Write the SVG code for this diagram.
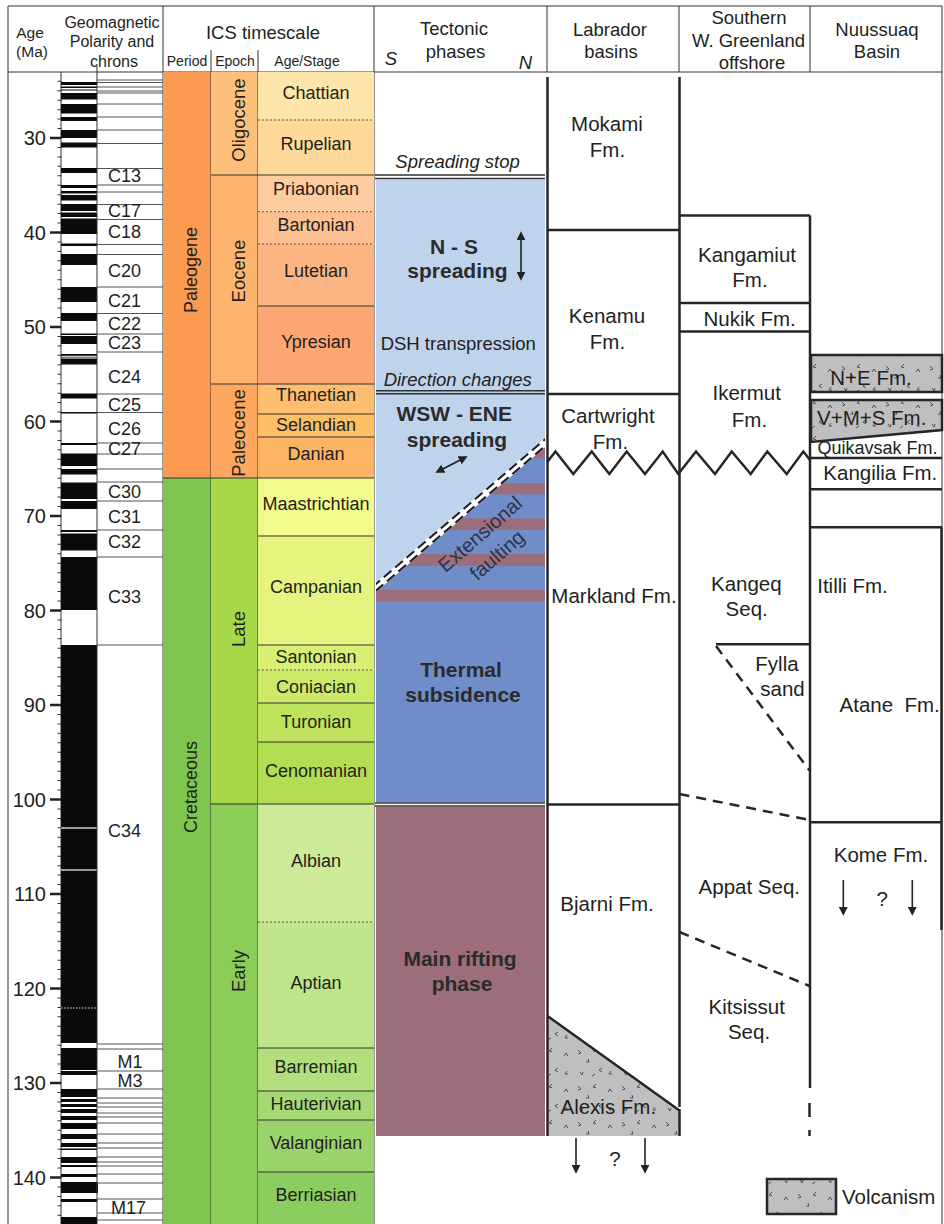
<svg xmlns="http://www.w3.org/2000/svg" width="944" height="1224" viewBox="0 0 944 1224">
<style>
.t{font-family:"Liberation Sans",Arial,sans-serif;fill:#231f20}
.m{text-anchor:middle}
.h{font-size:18.5px}
.hs{font-size:16px}
.sub{font-size:14px}
.st{font-size:18px;text-anchor:middle}
.ch{font-size:18px;text-anchor:middle}
.ag{font-size:20px;text-anchor:end}
.fm{font-size:20.5px;text-anchor:middle}
.b{font-size:21px;font-weight:bold;text-anchor:middle;fill:#2b2b2b}
.it{font-style:italic}
.thin{stroke:#333;stroke-width:1;fill:none}
.thk{stroke:#262626;stroke-width:2.5;fill:none}
.vb{stroke:#262626;stroke-width:2.5;fill:url(#volc)}
.dsh{stroke:#262626;stroke-width:2.5;fill:none;stroke-dasharray:10 7}
.dot{stroke:#555;stroke-width:1;stroke-dasharray:2 2;fill:none}
.dbl{stroke:#333;stroke-width:1.5;fill:none}
.arr{stroke:#222;stroke-width:1.6;fill:none}
</style>
<defs>
<pattern id="volc" patternUnits="userSpaceOnUse" width="44" height="36">
<rect width="44" height="36" fill="#bfbfc1"/>
<path d="M6 6l3 3l-3 1M24 4l-3 3l3 .5M36 12l2-3l2 3M14 18h3l-1-3M30 24l-3 2l3 2M8 28l2 3l1-3M40 30h-3l2-3M20 32l3-2" stroke="#333" stroke-width="0.8" fill="none"/>
</pattern>
<marker id="ah" viewBox="0 0 10 10" refX="8" refY="5" markerWidth="9" markerHeight="9" markerUnits="userSpaceOnUse" orient="auto-start-reverse">
<path d="M0 0L10 5L0 10z" fill="#222"/>
</marker>
<clipPath id="darkclip"><polygon points="376,589 545,443 545,802 376,802"/></clipPath>
<clipPath id="tcol"><rect x="376" y="180" width="169" height="622"/></clipPath>
</defs>
<rect width="944" height="1224" fill="#fff"/>

<g id="frame">
<path class="thin" d="M8 6H942V1224M8 6V1224M8 72H942M163 6V1224M374 6V1224M547 6V72M679 6V72M810 6V72M211 50V72M258 50V72M97 66V72"/>
</g>

<g id="header">
<text class="t m" style="font-size:15.5px" x="30" y="38">Age</text>
<text class="t m" style="font-size:15.5px" x="32" y="57">(Ma)</text>
<text class="t m hs" x="112" y="27.5">Geomagnetic</text>
<text class="t m hs" x="112" y="46.5">Polarity and</text>
<text class="t m hs" x="114" y="66.5">chrons</text>
<text class="t m h" x="263" y="39">ICS timescale</text>
<text class="t m sub" x="187" y="65.7">Period</text>
<text class="t m sub" x="235" y="65.7">Epoch</text>
<text class="t m sub" x="307" y="65.7">Age/Stage</text>
<text class="t m h" x="454" y="34.8">Tectonic</text>
<text class="t m h" x="455.5" y="58">phases</text>
<text class="t m h it" x="391" y="65">S</text>
<text class="t m h it" x="525.5" y="68.5">N</text>
<text class="t m h" x="610" y="35.8">Labrador</text>
<text class="t m h" x="611" y="58">basins</text>
<text class="t m h" x="749" y="23.8">Southern</text>
<text class="t m h" x="748.5" y="46.5">W. Greenland</text>
<text class="t m h" x="752" y="69">offshore</text>
<text class="t m h" x="877" y="35.8">Nuussuaq</text>
<text class="t m h" x="877" y="58">Basin</text>
</g>

<g id="age-axis">
<path d="M59.5 80.8V1224" stroke="#333" stroke-width="4" stroke-dasharray="1 8.45" fill="none"/>
<path d="M61 72V1224" class="thin"/>
<path d="M50 138H61M50 232.5H61M50 327H61M50 421.5H61M50 516H61M50 610.5H61M50 705H61M50 799.5H61M50 894H61M50 988.5H61M50 1083H61M50 1177.5H61" stroke="#222" stroke-width="2.5"/>
<text class="t ag" x="46" y="145.2">30</text>
<text class="t ag" x="46" y="239.7">40</text>
<text class="t ag" x="46" y="334.2">50</text>
<text class="t ag" x="46" y="428.7">60</text>
<text class="t ag" x="46" y="523.2">70</text>
<text class="t ag" x="46" y="617.7">80</text>
<text class="t ag" x="46" y="712.2">90</text>
<text class="t ag" x="46" y="806.7">100</text>
<text class="t ag" x="46" y="901.2">110</text>
<text class="t ag" x="46" y="995.7">120</text>
<text class="t ag" x="46" y="1090.2">130</text>
<text class="t ag" x="46" y="1184.7">140</text>
</g>

<g id="polarity">
<path fill="#0a0a0a" d="M61 82h36v3h-36zM61 86.5h36v1.5h-36zM61 89.5h36v1h-36zM61 93h36v6.5h-36zM61 104h36v9.5h-36zM61 117h36v4h-36zM61 130h36v8h-36zM61 142.5h36v5h-36zM61 168h36v5h-36zM61 185h36v3h-36zM61 191h36v2.5h-36zM61 195h36v5.5h-36zM61 204h36v7h-36zM61 212.5h36v4.5h-36zM61 218.5h36v15.5h-36zM61 243.5h36v2.5h-36zM61 254h36v11h-36zM61 287h36v15h-36zM61 313h36v8h-36zM61 333.5h36v1.5h-36zM61 336h36v8h-36zM61 354h36v1.7h-36zM61 356.7h36v.8h-36zM61 358.5h36v6h-36zM61 393.5h36v5h-36zM61 412h36v1.5h-36zM61 443h36v2h-36zM61 453.5h36v12.5h-36zM61 469h36v5.5h-36zM61 482.5h36v16.5h-36zM61 501h36v8h-36zM61 530h36v2h-36zM61 533.5h36v17h-36zM61 557h36v53h-36zM61 645h36v398h-36zM61 1048h36v22h-36zM61 1071h36v4h-36zM61 1089h36v8h-36zM61 1099h36v3h-36zM61 1104h36v3h-36zM61 1109h36v4h-36zM61 1116h36v4h-36zM61 1123h36v6h-36zM61 1134h36v5h-36zM61 1143h36v4h-36zM61 1148.5h36v1.5h-36zM61 1157h36v6h-36zM61 1165h36v2h-36zM61 1174h36v3h-36zM61 1182h37v11h-37zM61 1199h36v3h-36zM61 1217h36v7h-36z"/>
<path d="M61 828H97M61 870H97" stroke="#9a9a9a" stroke-width="2"/>
<path d="M61 1008H97" stroke="#ddd" stroke-width="1" stroke-dasharray="1.5 1.5"/>
<path d="M97 72V1224" class="thin"/>
</g>

<g id="chrons">
<path stroke="#555" stroke-width="1" fill="none" d="M97 80H163M97 82.5H163M97 87H163M97 91H163M97 93H163M97 104H163M97 117H163M97 130H163M97 143.5H163M97 168.5H163M97 185H163M97 192H163M97 204.5H163M97 219.5H163M97 244.5H163M97 254.5H163M97 287H163M97 313.5H163M97 334H163M97 352H163M97 394H163M97 412.5H163M97 443H163M97 454H163M97 469H163M97 482H163M97 501H163M97 530H163M97 557H163M97 645H163M97 1044H163M97 1049H163M97 1071H163M97 1089H163M97 1098H163M97 1103H163M97 1107H163M97 1113H163M97 1117H163M97 1123H163M97 1134H163M97 1143H163M97 1148H163M97 1157H163M97 1162H163M97 1166H163M97 1174H163M97 1183H163M97 1199H163M97 1213H163M97 1220H163"/>
<text class="t ch" x="124.5" y="181.6">C13</text>
<text class="t ch" x="124.5" y="217.3">C17</text>
<text class="t ch" x="124.5" y="238.3">C18</text>
<text class="t ch" x="124.5" y="277.3">C20</text>
<text class="t ch" x="124.5" y="306.6">C21</text>
<text class="t ch" x="124.5" y="329.9">C22</text>
<text class="t ch" x="124.5" y="348.9">C23</text>
<text class="t ch" x="124.5" y="382.6">C24</text>
<text class="t ch" x="124.5" y="410.6">C25</text>
<text class="t ch" x="124.5" y="434.9">C26</text>
<text class="t ch" x="124.5" y="454.9">C27</text>
<text class="t ch" x="124.5" y="498.3">C30</text>
<text class="t ch" x="124.5" y="523.3">C31</text>
<text class="t ch" x="124.5" y="548.3">C32</text>
<text class="t ch" x="124.5" y="603.3">C33</text>
<text class="t ch" x="124.5" y="837.3">C34</text>
<text class="t ch" x="130" y="1068.3">M1</text>
<text class="t ch" x="130" y="1087.3">M3</text>
<text class="t ch" x="128.5" y="1213.9">M17</text>
</g>

<g id="ics-period">
<rect x="163" y="72" width="48" height="406" fill="#FD9A52"/>
<rect x="163" y="478" width="48" height="746" fill="#7FC64E"/>
<path class="thin" d="M163 478H211M211 72V1224"/>
<text class="t m" style="font-size:18px" transform="translate(190 270) rotate(-90)" dy="6.5">Paleogene</text>
<text class="t m" style="font-size:18px" transform="translate(190 787) rotate(-90)" dy="6.5">Cretaceous</text>
</g>

<g id="ics-epoch">
<rect x="211" y="72" width="47" height="103" fill="#FDC07A"/>
<rect x="211" y="175" width="47" height="209" fill="#FDB46C"/>
<rect x="211" y="384" width="47" height="94" fill="#FDA75F"/>
<rect x="211" y="478" width="47" height="326" fill="#A6D84A"/>
<rect x="211" y="804" width="47" height="420" fill="#8CCD57"/>
<path class="thin" d="M211 175H258M211 384H258M211 478H258M211 804H258M258 72V1224"/>
<text class="t m" style="font-size:18.5px" transform="translate(238 120) rotate(-90)" dy="6.6">Oligocene</text>
<text class="t m" style="font-size:18.5px" transform="translate(238 271) rotate(-90)" dy="6.6">Eocene</text>
<text class="t m" style="font-size:18.5px" transform="translate(238 433) rotate(-90)" dy="6.6">Paleocene</text>
<text class="t m" style="font-size:18.5px" transform="translate(238 629) rotate(-90)" dy="6.6">Late</text>
<text class="t m" style="font-size:18.5px" transform="translate(238 971) rotate(-90)" dy="6.6">Early</text>
</g>

<g id="ics-stage">
<rect x="258" y="72" width="116" height="48" fill="#FEE6AA"/>
<rect x="258" y="120" width="116" height="55" fill="#FED99A"/>
<rect x="258" y="175" width="116" height="36.7" fill="#FDCDA1"/>
<rect x="258" y="211.7" width="116" height="32.3" fill="#FDC091"/>
<rect x="258" y="244" width="116" height="62" fill="#FCB482"/>
<rect x="258" y="306" width="116" height="78" fill="#FCA773"/>
<rect x="258" y="384" width="116" height="30" fill="#FDBF6F"/>
<rect x="258" y="414" width="116" height="23" fill="#FEBF65"/>
<rect x="258" y="437" width="116" height="41" fill="#FDB462"/>
<rect x="258" y="478" width="116" height="58" fill="#F2FA8C"/>
<rect x="258" y="536" width="116" height="109" fill="#E6F47F"/>
<rect x="258" y="645" width="116" height="25" fill="#D9EF74"/>
<rect x="258" y="670" width="116" height="33" fill="#CCE968"/>
<rect x="258" y="703" width="116" height="39" fill="#BFE35D"/>
<rect x="258" y="742" width="116" height="62" fill="#B3DE53"/>
<rect x="258" y="804" width="116" height="118" fill="#CCEA97"/>
<rect x="258" y="922" width="116" height="126" fill="#BFE48A"/>
<rect x="258" y="1048" width="116" height="43" fill="#B3DF7F"/>
<rect x="258" y="1091" width="116" height="29" fill="#A6D975"/>
<rect x="258" y="1120" width="116" height="52" fill="#99D36A"/>
<rect x="258" y="1172" width="116" height="52" fill="#8CCD60"/>
<path class="thin" d="M258 175H374M258 306H374M258 384H374M258 414H374M258 437H374M258 478H374M258 536H374M258 645H374M258 703H374M258 742H374M258 804H374M258 1048H374M258 1091H374M258 1120H374M258 1172H374"/>
<path class="dot" d="M258 120H374M258 211.7H374M258 244H374M258 670H374M258 922H374"/>
<text class="t st" x="316" y="98.5">Chattian</text>
<text class="t st" x="316" y="150.2">Rupelian</text>
<text class="t st" x="316" y="195.2">Priabonian</text>
<text class="t st" x="316" y="230.5">Bartonian</text>
<text class="t st" x="316" y="277.2">Lutetian</text>
<text class="t st" x="316" y="347.5">Ypresian</text>
<text class="t st" x="316" y="401.2">Thanetian</text>
<text class="t st" x="316" y="431.2">Selandian</text>
<text class="t st" x="316" y="459.8">Danian</text>
<text class="t st" x="316" y="509.5">Maastrichtian</text>
<text class="t st" x="316" y="593.2">Campanian</text>
<text class="t st" x="316" y="662.5">Santonian</text>
<text class="t st" x="316" y="692.5">Coniacian</text>
<text class="t st" x="316" y="727.5">Turonian</text>
<text class="t st" x="316" y="776.5">Cenomanian</text>
<text class="t st" x="316" y="866.5">Albian</text>
<text class="t st" x="316" y="988.5">Aptian</text>
<text class="t st" x="316" y="1073.2">Barremian</text>
<text class="t st" x="316" y="1109.8">Hauterivian</text>
<text class="t st" x="316" y="1148.5">Valanginian</text>
<text class="t st" x="316" y="1201.2">Berriasian</text>
</g>

<g id="tectonic">
<rect x="376" y="179.5" width="169" height="622.5" fill="#BFD3EC"/>
<polygon points="376,589 545,443 545,802 376,802" fill="#6F8DC8"/>
<g clip-path="url(#darkclip)" fill="#9C6D7A">
<rect x="376" y="448.3" width="169" height="10"/>
<rect x="376" y="483.3" width="169" height="11"/>
<rect x="376" y="518.3" width="169" height="11.7"/>
<rect x="376" y="554" width="169" height="11.7"/>
<rect x="376" y="590" width="169" height="11.7"/>
</g>
<g clip-path="url(#tcol)">
<line x1="374" y1="589" x2="547" y2="441" stroke="#fff" stroke-width="7"/>
<line x1="372.4" y1="587.1" x2="545.4" y2="439.1" stroke="#1a1a1a" stroke-width="2" stroke-dasharray="10 5"/>
<line x1="375.6" y1="590.9" x2="548.6" y2="442.9" stroke="#1a1a1a" stroke-width="2" stroke-dasharray="10 5"/>
</g>
<rect x="376" y="807" width="169" height="329" fill="#9C6D7A"/>
<path class="dbl" d="M375 175H545M375 178.5H545M376 390.7H545M376 393.7H545M375 803H545M375 806H545"/>
<text class="t m h it" x="457.6" y="168.3" fill="#333">Spreading stop</text>
<text class="t b" x="454" y="254.3">N - S</text>
<text class="t b" x="457.5" y="278.3">spreading</text>
<line x1="521" y1="233" x2="521" y2="279" class="arr" marker-start="url(#ah)" marker-end="url(#ah)"/>
<text class="t m h" x="458.3" y="350">DSH transpression</text>
<text class="t m h it" x="457.7" y="386">Direction changes</text>
<text class="t b" x="454.3" y="421">WSW - ENE</text>
<text class="t b" x="457" y="447">spreading</text>
<line x1="437" y1="472" x2="466" y2="457" class="arr" marker-start="url(#ah)" marker-end="url(#ah)"/>
<text class="t m" style="font-size:20px;fill:#2f3347" transform="translate(480 534) rotate(-41)" dy="7">Extensional</text>
<text class="t m" style="font-size:20px;fill:#2f3347" transform="translate(497 555) rotate(-41)" dy="7">faulting</text>
<text class="t b" x="461" y="676.6">Thermal</text>
<text class="t b" x="463" y="701.6">subsidence</text>
<text class="t b" x="460" y="965.6">Main rifting</text>
<text class="t b" x="462" y="990.6">phase</text>
</g>

<g id="labrador">
<polygon points="547.5,1016 679.5,1110 679.5,1136 547.5,1136" fill="url(#volc)"/>
<path class="thk" d="M547.5 77V1136M679.5 77V1107M547.5 230H679.5M547.5 394H679.5M547.5 804.5H679.5M547.5 1016L679.5 1110.5M679.5 1109V1136"/>
<text class="t fm" x="607" y="130.7">Mokami</text>
<text class="t fm" x="607.5" y="157.4">Fm.</text>
<text class="t fm" x="607" y="323.1">Kenamu</text>
<text class="t fm" x="607.5" y="349.1">Fm.</text>
<text class="t fm" x="608" y="423.4">Cartwright</text>
<text class="t fm" x="610.5" y="449.1">Fm.</text>
<text class="t fm" x="614" y="603.4">Markland Fm.</text>
<text class="t fm" x="607" y="910.7">Bjarni Fm.</text>
<text class="t fm" x="608.3" y="1114.1">Alexis Fm.</text>
<line x1="576" y1="1138" x2="576" y2="1172" class="arr" marker-end="url(#ah)"/>
<line x1="645" y1="1138" x2="645" y2="1172" class="arr" marker-end="url(#ah)"/>
<text class="t fm" x="615" y="1165.7">?</text>
</g>

<g id="sw-greenland">
<path class="thk" d="M679.5 215.5H810M810 215.5V1088M679.5 303H810M679.5 331.5H810M716 644.3H810M809.5 1103V1117M809.5 1130V1136"/>
<path class="dsh" d="M716 646L809.5 770.5M679.5 794L809.5 820M679.5 932L809.5 986"/>
<text class="t fm" x="747" y="262.4">Kangamiut</text>
<text class="t fm" x="750" y="287.4">Fm.</text>
<text class="t fm" x="749.6" y="325.7">Nukik Fm.</text>
<text class="t fm" x="746.7" y="400.1">Ikermut</text>
<text class="t fm" x="749.5" y="427.4">Fm.</text>
<text class="t fm" x="746.3" y="590.7">Kangeq</text>
<text class="t fm" x="746.7" y="615.7">Seq.</text>
<text class="t fm" x="777" y="670.7">Fylla</text>
<text class="t fm" x="782.5" y="695.7">sand</text>
<text class="t fm" x="749.3" y="894.1">Appat Seq.</text>
<text class="t fm" x="746.7" y="1014.1">Kitsissut</text>
<text class="t fm" x="749" y="1039.1">Seq.</text>
</g>

<g id="zigzag">
<polyline class="thk" points="547,462.3 555.5,451.5 573.3,474 591.7,451.5 609.3,474 626.7,451.5 645,474 662.7,451.5 678.3,474 696,451.5 715,474 731.7,451.5 750.7,474 767.3,451.5 786.7,474 803.3,451.5 810,460"/>
</g>

<g id="nuussuaq">
<rect x="811" y="355" width="131" height="37" class="vb"/>
<polygon points="811,400 942,400 942,430 811,442" class="vb"/>
<path class="thk" d="M810 458H942M810 489.3H942M810 527.3H942M941.5 527.3V930M810 822.3H942"/>
<text class="t fm" x="871" y="385.1">N+E Fm.</text>
<text class="t fm" x="871.7" y="425.1">V+M+S Fm.</text>
<text class="t" style="font-size:18px;text-anchor:middle" x="877.5" y="453.8">Quikavsak Fm.</text>
<text class="t fm" x="880.3" y="480.1">Kangilia Fm.</text>
<text class="t fm" x="852.5" y="593.4">Itilli Fm.</text>
<text class="t fm" x="889.7" y="712.4" xml:space="preserve">Atane  Fm.</text>
<text class="t fm" x="881" y="862.4">Kome Fm.</text>
<line x1="843.3" y1="880" x2="843.3" y2="914" class="arr" marker-end="url(#ah)"/>
<line x1="912.3" y1="880" x2="912.3" y2="914" class="arr" marker-end="url(#ah)"/>
<text class="t fm" x="882.3" y="906.4">?</text>
</g>

<g id="legend">
<rect x="767" y="1179" width="69" height="35" class="vb"/>
<text class="t" style="font-size:20.5px" x="842" y="1204.1">Volcanism</text>
</g>
</svg>
